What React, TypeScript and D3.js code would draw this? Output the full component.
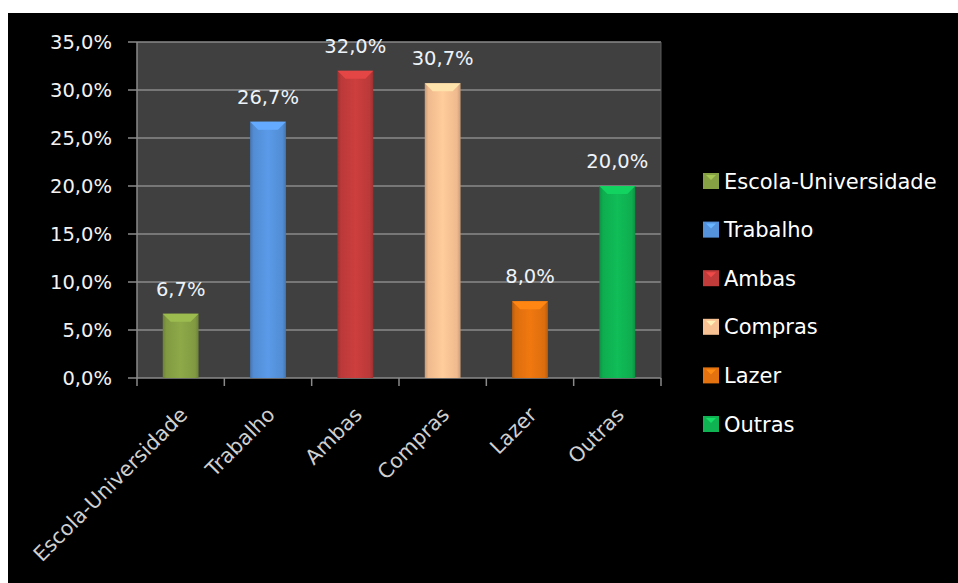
import React from "react";
import * as d3 from "d3";

const categories = ["Escola-Universidade", "Trabalho", "Ambas", "Compras", "Lazer", "Outras"];
const values = [6.7, 26.7, 32.0, 30.7, 8.0, 20.0];
const valueLabels = ["6,7%", "26,7%", "32,0%", "30,7%", "8,0%", "20,0%"];
const yTicks = [0, 5, 10, 15, 20, 25, 30, 35];
const yTickLabels = ["0,0%", "5,0%", "10,0%", "15,0%", "20,0%", "25,0%", "30,0%", "35,0%"];
const colors = ["#86a044", "#5592dc", "#c23b3b", "#f8c193", "#e4720f", "#0fb352"];

const FONT = "'DejaVu Sans', Verdana, sans-serif";

function shade(c: string, k: number) {
  const col = d3.rgb(c);
  return k > 0 ? col.brighter(k).formatHex() : col.darker(-k).formatHex();
}

export default function App() {
  const W = 958, H = 583;
  const left = 137, right = 661, top = 42, bottom = 378;
  const x = d3.scaleBand<string>().domain(categories).range([left, right]).padding(0);
  const y = d3.scaleLinear().domain([0, 35]).range([bottom, top]);
  const bw = x.bandwidth() * 0.41;
  const boundaries = categories.map((c) => x(c) as number).concat([right]);

  return (
    <svg width={W} height={H} style={{ display: "block", position: "absolute", left: 0, top: 0 }}>
      <defs>
        {colors.map((c, i) => (
          <linearGradient id={`g${i}`} key={i} x1="0" x2="1" y1="0" y2="0">
            <stop offset="0" stopColor={shade(c, -0.6)} />
            <stop offset="0.1" stopColor={shade(c, -0.1)} />
            <stop offset="0.5" stopColor={shade(c, 0.15)} />
            <stop offset="0.9" stopColor={shade(c, -0.1)} />
            <stop offset="1" stopColor={shade(c, -0.6)} />
          </linearGradient>
        ))}
      </defs>
      <rect x={0} y={0} width={W} height={H} fill="#ffffff" />
      <rect x={8} y={13} width={W - 8} height={H - 13} fill="#000000" />
      <rect x={left} y={top} width={right - left} height={bottom - top} fill="#404040" />
      {yTicks.map((t, i) => (
        <g key={t}>
          <line x1={left - 9} x2={right} y1={y(t)} y2={y(t)} stroke="#8a8a8a" strokeWidth={1.5} />
          <text x={112} y={y(t)} dy="0.36em" textAnchor="end" fill="#f2f2f2" fontFamily={FONT} fontSize={19.5}>
            {yTickLabels[i]}
          </text>
        </g>
      ))}
      <line x1={left} x2={left} y1={top} y2={bottom} stroke="#8a8a8a" strokeWidth={1.5} />
      <line x1={right} x2={right} y1={top} y2={bottom} stroke="#5a5a5a" strokeWidth={1} />
      {boundaries.map((b, i) => (
        <line key={i} x1={b} x2={b} y1={bottom} y2={bottom + 8} stroke="#8a8a8a" strokeWidth={1.5} />
      ))}
      {categories.map((c, i) => {
        const cx = (x(c) as number) + x.bandwidth() / 2;
        const x0 = cx - bw / 2;
        const yt = y(values[i]);
        const bev = 8;
        return (
          <g key={c}>
            <rect x={x0} y={yt} width={bw} height={bottom - yt} fill={`url(#g${i})`} />
            <polygon
              points={`${x0},${yt} ${x0 + bw},${yt} ${x0 + bw - bev},${yt + bev} ${x0 + bev},${yt + bev}`}
              fill={shade(colors[i], 0.45)}
            />
            <text x={cx} y={yt - 18} textAnchor="middle" fill="#eef3fa" fontFamily={FONT} fontSize={19.5}>
              {valueLabels[i]}
            </text>
            <text
              transform={`translate(${cx + 8},${bottom + 38}) rotate(-45)`}
              textAnchor="end"
              fill="#d0d0d0"
              fontFamily={FONT}
              fontSize={20.5}
            >
              {c}
            </text>
          </g>
        );
      })}
      {categories.map((c, i) => {
        const cy = 181 + i * 48.6;
        return (
          <g key={`l${c}`}>
            <rect x={703} y={cy - 8} width={16} height={16} fill={colors[i]} />
            <polygon points={`${706},${cy - 6} ${716},${cy - 6} ${711},${cy - 1}`} fill={shade(colors[i], 0.6)} />
            <text x={724} y={cy} dy="0.36em" fill="#ffffff" fontFamily={FONT} fontSize={21}>
              {c}
            </text>
          </g>
        );
      })}
    </svg>
  );
}
